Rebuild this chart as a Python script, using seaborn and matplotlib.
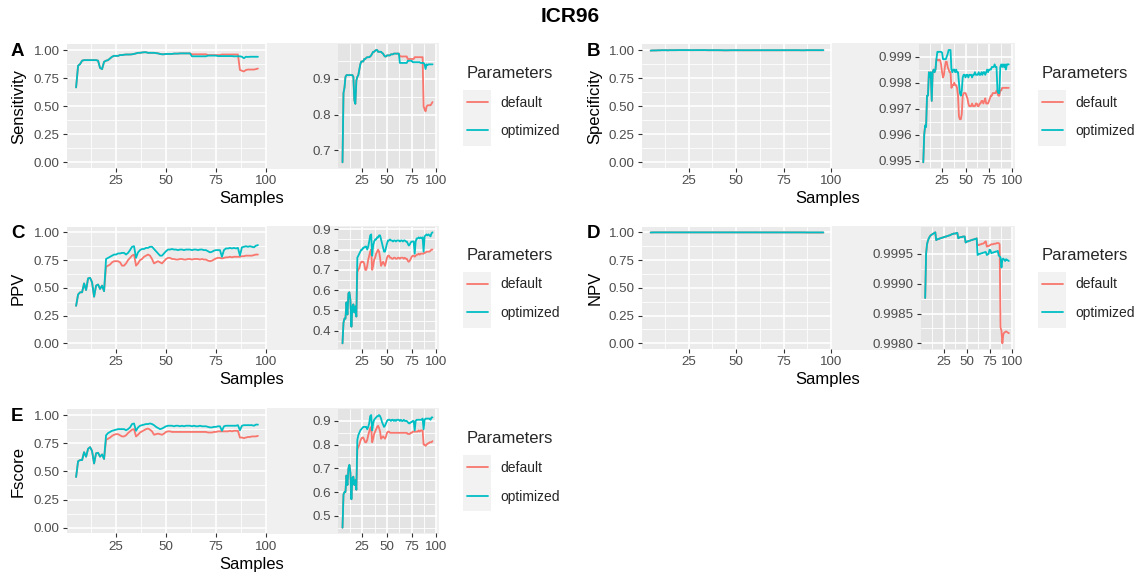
import matplotlib
matplotlib.use("Agg")
import matplotlib.pyplot as plt
import numpy as np
import pandas as pd
import seaborn as sns
from matplotlib.patches import Rectangle
from matplotlib.lines import Line2D
from matplotlib.ticker import FixedLocator, FormatStrFormatter

# ---------------- data ----------------
samples = list(range(5, 97))
params = ["default", "optimized"]
colors = ["#F8766D", "#00BFC4"]

sens_opt = [
    0.667, 0.86, 0.875, 0.905, 0.91, 0.91, 0.91, 0.91, 0.91, 0.91,        # 5-14
    0.91, 0.905, 0.84, 0.83, 0.895, 0.905, 0.91, 0.925, 0.94, 0.948,      # 15-24
    0.948, 0.948, 0.955, 0.955, 0.958, 0.96, 0.96, 0.96, 0.962, 0.965,    # 25-34
    0.97, 0.975, 0.975, 0.978, 0.98, 0.98, 0.975, 0.975, 0.975, 0.975,    # 35-44
    0.972, 0.97, 0.965, 0.962, 0.962, 0.965, 0.965, 0.965, 0.965, 0.968,  # 45-54
    0.968, 0.968, 0.97, 0.97, 0.97, 0.97, 0.97, 0.97, 0.944, 0.944,       # 55-64
    0.944, 0.944, 0.944, 0.944, 0.944, 0.944, 0.95, 0.95, 0.95, 0.95,     # 65-74
    0.95, 0.946, 0.946, 0.946, 0.946, 0.946, 0.946, 0.946, 0.946, 0.944,  # 75-84
    0.944, 0.944, 0.944, 0.94, 0.927, 0.94, 0.938, 0.94, 0.94, 0.94,      # 85-94
    0.94, 0.94]                                                          # 95-96
sens_def = sens_opt[:58] + [
    0.962, 0.962, 0.962, 0.962, 0.962, 0.962, 0.962, 0.962, 0.955, 0.955,  # 63-72
    0.955, 0.955, 0.955, 0.955, 0.955, 0.96, 0.96, 0.96, 0.96, 0.96,       # 73-82
    0.96, 0.96, 0.96, 0.96, 0.823, 0.815, 0.809, 0.822, 0.826, 0.826,      # 83-92
    0.826, 0.826, 0.83, 0.835]                                             # 93-96

spec_opt = [
    0.99495, 0.9960, 0.99636, 0.9963, 0.9975, 0.9975, 0.9984, 0.9982, 0.9984, 0.9973,
    0.9984, 0.9985, 0.9984, 0.9985, 0.9989, 0.99918, 0.99918, 0.99918, 0.99918, 0.99918,
    0.99915, 0.9989, 0.9989, 0.9989, 0.9989, 0.9990, 0.9991, 0.99925, 0.99925, 0.99925,
    0.9985, 0.9984, 0.9985, 0.9985, 0.9984, 0.9985, 0.9984, 0.9984, 0.9980, 0.9976,
    0.9975, 0.9977, 0.9982, 0.9983, 0.9983, 0.9982, 0.9983, 0.9983, 0.9982, 0.9983,
    0.9983, 0.9983, 0.9982, 0.9983, 0.9983, 0.9984, 0.9983, 0.9983, 0.9983, 0.9984,
    0.9983, 0.9983, 0.9984, 0.9983, 0.9984, 0.9984, 0.9983, 0.9984, 0.9985, 0.9984,
    0.9985, 0.9985, 0.9985, 0.9986, 0.9986, 0.9986, 0.9987, 0.9986, 0.9986, 0.9977,
    0.9976, 0.9976, 0.9986, 0.9987, 0.9986, 0.9987, 0.9986, 0.9987, 0.9985, 0.9987,
    0.9987, 0.9987]
spec_def = spec_opt[:15] + [
    0.99888, 0.99885, 0.99888, 0.99885, 0.9987, 0.9984, 0.9982, 0.9983, 0.9986, 0.9988,
    0.9988, 0.9986, 0.9985, 0.9984, 0.9984, 0.9978, 0.9979, 0.9979, 0.9980, 0.9979,
    0.9979, 0.9978, 0.9975, 0.9967, 0.9966, 0.9966, 0.9968, 0.9975, 0.9976, 0.9976,
    0.9976, 0.9975, 0.9974, 0.9972, 0.9971, 0.9971, 0.9971, 0.9972, 0.9971, 0.9971,
    0.9971, 0.9972, 0.9972, 0.9971, 0.9971, 0.9972, 0.9972, 0.9973, 0.9973, 0.9972,
    0.9973, 0.9974, 0.9972, 0.9972, 0.9972, 0.9973, 0.9974, 0.9975, 0.9975, 0.9976,
    0.9976, 0.9976, 0.9976, 0.9977, 0.9976, 0.9975, 0.9975, 0.9977, 0.9977, 0.9978,
    0.9978, 0.9978, 0.9978, 0.9978, 0.9978, 0.9978, 0.9978]

ppv_opt = [
    0.338, 0.44, 0.46, 0.46, 0.54, 0.48, 0.585, 0.59, 0.55, 0.42,
    0.52, 0.53, 0.49, 0.52, 0.47, 0.76, 0.77, 0.78, 0.79, 0.80,
    0.80, 0.81, 0.81, 0.815, 0.815, 0.80, 0.815, 0.84, 0.87, 0.875,
    0.77, 0.82, 0.84, 0.85, 0.85, 0.86, 0.86, 0.87, 0.87, 0.85,
    0.83, 0.81, 0.79, 0.79, 0.81, 0.83, 0.845, 0.845, 0.85, 0.845,
    0.845, 0.84, 0.845, 0.845, 0.84, 0.845, 0.845, 0.845, 0.84, 0.845,
    0.845, 0.84, 0.845, 0.845, 0.84, 0.84, 0.83, 0.82, 0.825, 0.835,
    0.84, 0.84, 0.84, 0.78, 0.84, 0.855, 0.855, 0.86, 0.855, 0.86,
    0.855, 0.86, 0.79, 0.865, 0.87, 0.875, 0.87, 0.875, 0.87, 0.865,
    0.88, 0.885]
ppv_def = ppv_opt[:15] + [
    0.69, 0.70, 0.71, 0.73, 0.74, 0.74, 0.74, 0.73, 0.70, 0.70,
    0.72, 0.75, 0.77, 0.79, 0.80, 0.70, 0.72, 0.75, 0.76, 0.78,
    0.79, 0.80, 0.79, 0.76, 0.72, 0.73, 0.74, 0.73, 0.72, 0.74,
    0.76, 0.77, 0.77, 0.76, 0.76, 0.755, 0.755, 0.76, 0.76, 0.755,
    0.755, 0.76, 0.76, 0.755, 0.76, 0.76, 0.76, 0.755, 0.76, 0.755,
    0.755, 0.745, 0.74, 0.745, 0.755, 0.765, 0.77, 0.77, 0.765, 0.77,
    0.775, 0.775, 0.78, 0.775, 0.78, 0.78, 0.78, 0.78, 0.785, 0.785,
    0.79, 0.79, 0.79, 0.79, 0.795, 0.80, 0.80]

npv_opt = [
    0.99876, 0.99950, 0.99966, 0.99972, 0.99976, 0.99979, 0.99981, 0.99982, 0.99983, 0.99984,
    0.99985, 0.99986, 0.99973, 0.99974, 0.99975, 0.99975, 0.99976, 0.99976, 0.99977, 0.99977,
    0.99978, 0.99978, 0.99979, 0.99979, 0.99980, 0.99980, 0.99981, 0.99981, 0.99982, 0.99983,
    0.99983, 0.99984, 0.99984, 0.99984, 0.99985, 0.99985, 0.99976, 0.99977, 0.99978, 0.99978,
    0.99978, 0.99979, 0.99979, 0.99979, 0.99969, 0.99970, 0.99971, 0.99971, 0.99972, 0.99972,
    0.99973, 0.99973, 0.99974, 0.99974, 0.99975, 0.99975, 0.99976, 0.99948, 0.99949, 0.99950,
    0.99950, 0.99951, 0.99951, 0.99952, 0.99952, 0.99953, 0.99953, 0.99948, 0.99949, 0.99950,
    0.99957, 0.99956, 0.99951, 0.99952, 0.99952, 0.99953, 0.99953, 0.99954, 0.99954, 0.99955,
    0.99947, 0.99946, 0.99944, 0.99927, 0.99941, 0.99942, 0.99940, 0.99938, 0.99941, 0.99940,
    0.99939, 0.99938]
npv_def = npv_opt[:57] + [
    0.99964, 0.99965, 0.99965, 0.99966, 0.99966, 0.99967, 0.99967, 0.99968, 0.99970, 0.99971,
    0.99962, 0.99963, 0.99963, 0.99964, 0.99965, 0.99966, 0.99966, 0.99966, 0.99967, 0.99967,
    0.99967, 0.99968, 0.99968, 0.99968, 0.99966, 0.99827, 0.99821, 0.99800, 0.99815, 0.99818,
    0.99819, 0.99820, 0.99819, 0.99818, 0.99817]

fscore_opt = [
    0.45, 0.59, 0.60, 0.60, 0.67, 0.63, 0.70, 0.715, 0.68, 0.57,
    0.66, 0.665, 0.63, 0.65, 0.61, 0.82, 0.84, 0.85, 0.86, 0.865,
    0.87, 0.875, 0.875, 0.875, 0.875, 0.865, 0.875, 0.89, 0.92, 0.925,
    0.86, 0.89, 0.905, 0.91, 0.915, 0.92, 0.92, 0.925, 0.92, 0.91,
    0.895, 0.885, 0.875, 0.88, 0.89, 0.90, 0.905, 0.905, 0.905, 0.90,
    0.905, 0.905, 0.90, 0.905, 0.90, 0.905, 0.905, 0.905, 0.90, 0.905,
    0.90, 0.90, 0.905, 0.90, 0.90, 0.90, 0.895, 0.89, 0.89, 0.895,
    0.895, 0.90, 0.90, 0.86, 0.90, 0.905, 0.905, 0.905, 0.905, 0.905,
    0.905, 0.91, 0.865, 0.905, 0.91, 0.91, 0.91, 0.91, 0.91, 0.905,
    0.915, 0.915]
fscore_def = fscore_opt[:15] + [
    0.78, 0.79, 0.80, 0.815, 0.825, 0.83, 0.83, 0.82, 0.81, 0.81,
    0.82, 0.84, 0.855, 0.87, 0.875, 0.81, 0.825, 0.845, 0.855, 0.865,
    0.875, 0.88, 0.87, 0.855, 0.825, 0.83, 0.835, 0.83, 0.825, 0.835,
    0.85, 0.855, 0.855, 0.85, 0.85, 0.85, 0.85, 0.85, 0.85, 0.85,
    0.85, 0.85, 0.85, 0.85, 0.85, 0.85, 0.85, 0.85, 0.85, 0.85,
    0.85, 0.845, 0.845, 0.845, 0.85, 0.85, 0.855, 0.855, 0.855, 0.855,
    0.855, 0.855, 0.86, 0.855, 0.86, 0.86, 0.86, 0.80, 0.80, 0.795,
    0.80, 0.805, 0.805, 0.81, 0.81, 0.81, 0.815]

metric_names = ["Sensitivity", "Specificity", "PPV", "NPV", "Fscore"]
panel_letters = ["A", "B", "C", "D", "E"]
series_default = [sens_def, spec_def, ppv_def, npv_def, fscore_def]
series_optimized = [sens_opt, spec_opt, ppv_opt, npv_opt, fscore_opt]
main_yticks = [0.0, 0.25, 0.5, 0.75, 1.0]
main_xticks = [25, 50, 75, 100]
inset_yticks = [[0.7, 0.8, 0.9],
                [0.995, 0.996, 0.997, 0.998, 0.999],
                [0.4, 0.5, 0.6, 0.7, 0.8, 0.9],
                [0.998, 0.9985, 0.999, 0.9995],
                [0.5, 0.6, 0.7, 0.8, 0.9]]
inset_fmt = ["%.1f", "%.3f", "%.1f", "%.4f", "%.1f"]

# ---------------- layout (pixels) ----------------
W, H = 1140, 573
# (main left, top, main right, bottom, inset left, inset right, ylabel x, letter x, legend x)
layout = [
    (67, 44.4, 267, 167.9, 338, 437, 18.5, 11, 467),
    (642, 44.4, 832, 167.9, 919, 1013, 595, 587, 1042),
    (67, 226.8, 267, 348.9, 338, 437, 18.5, 11, 467),
    (642, 226.8, 832, 348.9, 921, 1013, 595, 587, 1042),
    (67, 409.4, 267, 533.3, 338, 437, 18.5, 11, 467),
]

sns.set_theme(style="darkgrid", rc={
    "axes.facecolor": "#EBEBEB",
    "grid.color": "white",
    "axes.edgecolor": "none",
})
plt.rcParams["font.family"] = ["Liberation Sans", "DejaVu Sans"]

fig = plt.figure(figsize=(W / 100, H / 100), dpi=100)
fig.patch.set_facecolor("white")


def px_axes(l, t, r, b):
    return fig.add_axes([l / W, 1 - b / H, (r - l) / W, (b - t) / H])


def style_axes(ax, xt, yt, fmt, ylim, face):
    ax.set_facecolor(face)
    lo_x = min(samples) - 0.05 * (max(samples) - min(samples))
    hi_x = max(samples) + 0.05 * (max(samples) - min(samples))
    ax.set_xlim(lo_x, hi_x)
    ax.set_ylim(*ylim)
    ax.xaxis.set_major_locator(FixedLocator(xt))
    ax.yaxis.set_major_locator(FixedLocator(yt))
    xm = [xt[0] - (xt[1] - xt[0]) / 2] + [(a + b) / 2 for a, b in zip(xt[:-1], xt[1:])]
    ym = [yt[0] - (yt[1] - yt[0]) / 2] + [(a + b) / 2 for a, b in zip(yt[:-1], yt[1:])] + [yt[-1] + (yt[1] - yt[0]) / 2]
    ax.xaxis.set_minor_locator(FixedLocator(xm))
    ax.yaxis.set_minor_locator(FixedLocator(ym))
    ax.yaxis.set_major_formatter(FormatStrFormatter(fmt))
    ax.grid(which="major", color="white", lw=1.2)
    ax.grid(which="minor", color="white", lw=0.6)
    ax.tick_params(which="major", length=2.75, width=0.8, color="#333333",
                   labelcolor="#4D4D4D", labelsize=9.6, pad=2.5,
                   bottom=True, left=True)
    ax.tick_params(which="minor", length=0)
    for s in ax.spines.values():
        s.set_visible(False)
    ax.set_xlabel("")
    ax.set_ylabel("")


for i in range(5):
    l, t, r, b, il, ir, ylx, lx, legx = layout[i]
    df = pd.DataFrame({
        "Samples": samples + samples,
        "value": series_default[i] + series_optimized[i],
        "Parameters": [params[0]] * len(samples) + [params[1]] * len(samples),
    })
    pal = dict(zip(params, colors))

    # light background behind the zoomed inset
    fig.add_artist(Rectangle((r / W, 1 - (b + 1) / H), (ir + 2 - r) / W, (b - t + 2) / H,
                             transform=fig.transFigure, facecolor="#F0F0F0",
                             edgecolor="none", zorder=-1))

    ax = px_axes(l, t, r, b)
    sns.lineplot(data=df, x="Samples", y="value", hue="Parameters", hue_order=params,
                 palette=pal, estimator=None, errorbar=None, lw=1.3, legend=False, ax=ax)
    style_axes(ax, main_xticks, main_yticks, "%.2f", (-0.05, 1.05), "#EBEBEB")

    axi = px_axes(il, t, ir, b)
    sns.lineplot(data=df, x="Samples", y="value", hue="Parameters", hue_order=params,
                 palette=pal, estimator=None, errorbar=None, lw=1.3, legend=False, ax=axi)
    vals = df["value"]
    rng = vals.max() - vals.min()
    style_axes(axi, main_xticks, inset_yticks[i], inset_fmt[i],
               (vals.min() - 0.05 * rng, vals.max() + 0.05 * rng), "#E4E4E4")

    cy = (t + b) / 2
    fig.text(ylx / W, 1 - cy / H, metric_names[i], rotation=90, ha="center", va="center",
             fontsize=12, color="black")
    fig.text(lx / W, 1 - (t + 7) / H, panel_letters[i], ha="left", va="center",
             fontsize=13.5, fontweight="bold", color="black")
    fig.text(((l + ir) / 2) / W, 1 - (b + 31) / H, "Samples", ha="center", va="center",
             fontsize=12, color="black")

    # legend
    fig.add_artist(Rectangle(((legx - 4) / W, 1 - (cy + 40) / H), 28 / W, 56 / H,
                             transform=fig.transFigure, facecolor="#F2F2F2",
                             edgecolor="none", zorder=1))
    handles = [Line2D([], [], color=c, lw=1.3) for c in colors]
    fig.legend(handles, params, title="Parameters", loc="upper left",
               bbox_to_anchor=(legx / W, 1 - (cy - 40) / H), frameon=False,
               fontsize=10, title_fontsize=12, handlelength=1.5, handletextpad=0.9,
               labelspacing=1.05, borderpad=0, borderaxespad=0, alignment="left")

fig.text(0.5, 1 - 16 / H, "ICR96", ha="center", va="center", fontsize=15,
         fontweight="bold", color="black")

fig.savefig("out.png", dpi=100)
